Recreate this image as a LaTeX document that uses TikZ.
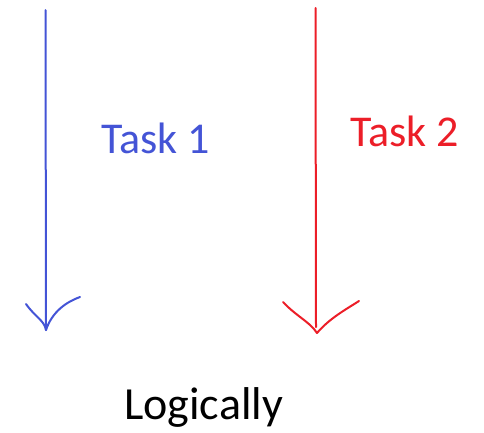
\documentclass[tikz,border=0pt]{standalone}
\usepackage{fontspec}
\setmainfont{Carlito}
\definecolor{penblue}{RGB}{68,84,214}
\definecolor{penred}{RGB}{236,30,40}
\begin{document}
\begin{tikzpicture}[x=1pt,y=-1pt,
  pen/.style={line width=2pt,line cap=round,line join=round},
  label/.style={inner sep=0pt,anchor=base west,font=\fontsize{44}{52}\selectfont}]
\useasboundingbox (0,0) rectangle (484,432);
% task 1 timeline
\coordinate (b1) at (45.5,10);
\coordinate (b2) at (46,330);
\coordinate (bl) at (26,304);
\coordinate (br) at (80,297);
\draw[pen,penblue] (b1) -- (b2);
\draw[pen,penblue] (bl) .. controls (36,318) and (44,320) .. (b2)
  .. controls (52,312) and (66,302) .. (br);
% task 2 timeline
\coordinate (r1) at (315.5,8);
\coordinate (r2) at (316,327);
\coordinate (rt) at (317,333);
\coordinate (rl) at (283,302);
\coordinate (rr) at (359,301);
\draw[pen,penred] (r1) -- (r2);
\draw[pen,penred] (rl) .. controls (296,316) and (310,322) .. (rt)
  .. controls (330,318) and (345,310) .. (rr);
% labels
\node[label,text=penblue] (t1) at (101,153) {Task 1};
\node[label,text=penred] (t2) at (350,146) {Task 2};
\node[label,font=\fontsize{46}{54}\selectfont] (lg) at (124,419) {Logically};
\end{tikzpicture}
\end{document}
